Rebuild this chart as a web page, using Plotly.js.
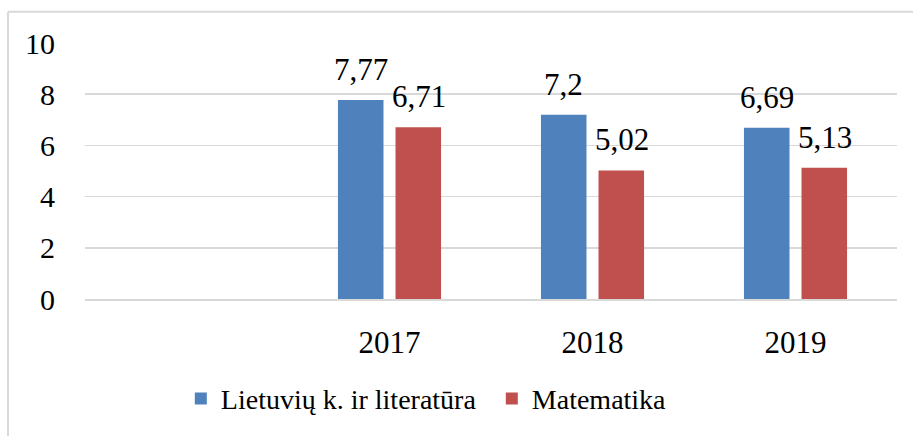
<!DOCTYPE html>
<html>
<head>
<meta charset="utf-8">
<script src="https://cdn.plot.ly/plotly-3.0.1.min.js"></script>
<style>html,body{margin:0;padding:0;background:#fff;}#chart{width:913px;height:436px;}</style>
</head>
<body>
<div id="chart"></div>
<script>
const categories = ['2017', '2018', '2019'];
const lietuviu = [7.77, 7.2, 6.69];
const matematika = [6.71, 5.02, 5.13];
const seriesNames = ['Lietuvių k. ir literatūra', 'Matematika'];
const yTicks = [0, 2, 4, 6, 8, 10];

const FONT = 'Liberation Serif, Times New Roman, serif';
const fmt = v => String(v).replace('.', ',');

const traces = [
  {type: 'bar', name: seriesNames[0], x: categories, y: lietuviu, marker: {color: '#4F81BD'}, hoverinfo: 'none'},
  {type: 'bar', name: seriesNames[1], x: categories, y: matematika, marker: {color: '#C0504D'}, hoverinfo: 'none'}
];

const annotations = [];
[[lietuviu, -29], [matematika, 29]].forEach(([vals, shift]) => {
  vals.forEach((v, i) => {
    annotations.push({x: i, y: v, xref: 'x', yref: 'y', text: fmt(v), showarrow: false,
      xshift: shift, yanchor: 'bottom', yshift: 11, font: {family: FONT, size: 31, color: '#000'}});
  });
});

const layout = {
  width: 913, height: 436,
  margin: {l: 85, r: 16, t: 43, b: 131.5, pad: 0},
  paper_bgcolor: '#fff', plot_bgcolor: '#fff',
  font: {family: FONT, size: 30, color: '#000'},
  barmode: 'group', bargap: 0.433, bargroupgap: 0.209,
  showlegend: true,
  legend: {orientation: 'h', x: 0.118, xanchor: 'left', y: -0.39, yanchor: 'middle',
    font: {family: FONT, size: 28, color: '#000'}, entrywidth: 266, entrywidthmode: 'pixels',
    bgcolor: 'rgba(0,0,0,0)', borderwidth: 0},
  xaxis: {type: 'category', range: [-1.5, 2.5],
    showgrid: false, zeroline: false, showline: true, linecolor: '#d9d9d9', linewidth: 1.5,
    ticks: 'outside', ticklen: 15, tickcolor: 'rgba(0,0,0,0)',
    tickfont: {family: FONT, size: 31, color: '#000'}, fixedrange: true},
  yaxis: {range: [0, 10], tickvals: yTicks, ticktext: yTicks.map(String),
    showgrid: true, gridcolor: '#d9d9d9', gridwidth: 1.5, zeroline: false, showline: false,
    ticks: 'outside', ticklen: 23, tickcolor: 'rgba(0,0,0,0)',
    tickfont: {family: FONT, size: 30, color: '#000'}, fixedrange: true},
  annotations: annotations,
  shapes: [
    {type: 'line', xref: 'paper', yref: 'paper', x0: -0.0948, x1: -0.0948, y0: 1.122, y1: -0.6,
      line: {color: '#d9d9d9', width: 2}},
    {type: 'line', xref: 'paper', yref: 'paper', x0: -0.0948, x1: 1.1, y0: 1.122, y1: 1.122,
      line: {color: '#d9d9d9', width: 2}}
  ]
};

Plotly.newPlot('chart', traces, layout, {staticPlot: true, displayModeBar: false});
</script>
</body>
</html>
